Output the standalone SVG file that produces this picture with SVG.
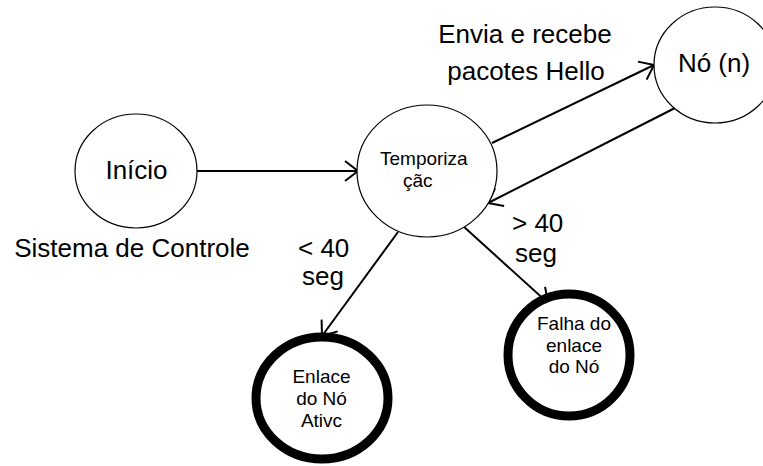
<svg xmlns="http://www.w3.org/2000/svg" width="763" height="466" viewBox="0 0 763 466">
<style>
  .bg { fill: #ffffff; }
  .node { fill: #ffffff; stroke: #000000; stroke-width: 1.2; }
  .thick { fill: #ffffff; stroke: #000000; stroke-width: 9; }
  .edge { fill: none; stroke: #000000; stroke-width: 2; }
  .lbl { font-family: "Liberation Sans", Arial, sans-serif; font-size: 26px; fill: #000000; }
  .small { font-family: "Liberation Sans", Arial, sans-serif; font-size: 19px; fill: #000000; }
  .mid { text-anchor: middle; }
</style>
<defs>
  <marker id="arrow" markerUnits="userSpaceOnUse" viewBox="-16 -12 18 24" refX="0" refY="0" markerWidth="18" markerHeight="24" orient="auto">
    <path d="M-13,-10 L0,0 L-13,10" fill="none" stroke="#000000" stroke-width="2"/>
  </marker>
</defs>
<rect class="bg" x="0" y="0" width="763" height="466"/>

<g id="connectors">
  <line class="edge" x1="197" y1="171" x2="358" y2="171" marker-end="url(#arrow)"/>
  <line class="edge" x1="492" y1="143" x2="654" y2="65" marker-end="url(#arrow)"/>
  <line class="edge" x1="675" y1="108" x2="488" y2="203" marker-end="url(#arrow)"/>
  <line class="edge" x1="398" y1="232" x2="322" y2="336" marker-end="url(#arrow)"/>
  <line class="edge" x1="463" y1="226" x2="548" y2="303" marker-end="url(#arrow)"/>
</g>

<g id="inicio">
  <ellipse class="node" cx="136" cy="171" rx="61" ry="57"/>
  <text class="lbl mid" x="136.5" y="179">Início</text>
</g>

<g id="sistema-label">
  <text class="lbl mid" x="132" y="257">Sistema de Controle</text>
</g>

<g id="temporizacao">
  <ellipse class="node" cx="427" cy="171" rx="70" ry="66"/>
  <text class="small" x="380" y="165">Temporiza</text>
  <text class="small" x="403" y="187">çãc</text>
</g>

<g id="no-n">
  <ellipse class="node" cx="715" cy="65" rx="61" ry="58"/>
  <text class="lbl mid" x="714" y="72">Nó (n)</text>
</g>

<g id="hello-label">
  <text class="lbl mid" x="525" y="43">Envia e recebe</text>
  <text class="lbl mid" x="526" y="80">pacotes Hello</text>
</g>

<g id="menor-label">
  <text class="lbl" x="298" y="257">&lt; 40</text>
  <text class="lbl" x="302" y="285">seg</text>
</g>

<g id="maior-label">
  <text class="lbl" x="512" y="232">&gt; 40</text>
  <text class="lbl" x="515" y="262">seg</text>
</g>

<g id="enlace-ativo">
  <ellipse class="thick" cx="322" cy="398" rx="66" ry="61"/>
  <text class="small mid" x="321.5" y="383">Enlace</text>
  <text class="small mid" x="321.5" y="405">do Nó</text>
  <text class="small mid" x="321.5" y="427">Ativc</text>
</g>

<g id="falha-enlace">
  <ellipse class="thick" cx="569" cy="355" rx="61" ry="61"/>
  <text class="small mid" x="574" y="330">Falha do</text>
  <text class="small mid" x="574" y="352">enlace</text>
  <text class="small mid" x="574" y="373">do Nó</text>
</g>
</svg>
